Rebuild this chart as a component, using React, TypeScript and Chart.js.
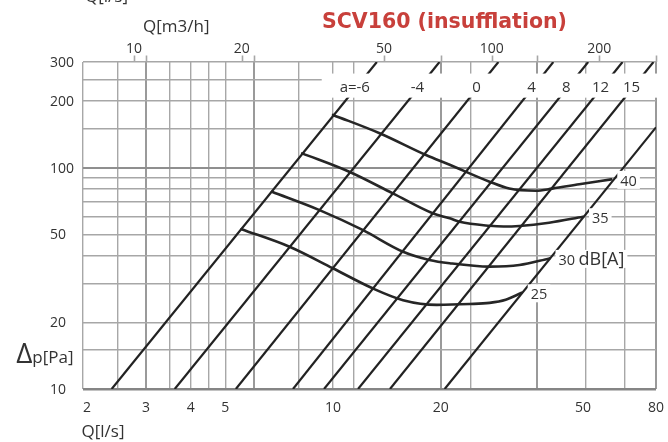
import React, { useEffect, useRef } from 'react';
import { Chart, registerables } from 'chart.js';

Chart.register(...registerables);

// ---------------- grid & tick values ----------------
const xGridLs = [2, 2.5, 3, 3.5, 4, 4.5, 5, 6, 8, 10, 11.4, 20, 24.2, 37.3, 51, 65.5, 80];
const xMajorLs = [3, 6, 20, 37.3, 80];
const yGridPa = [10, 15, 20, 30, 40, 50, 60, 70, 80, 90, 100, 150, 200, 250, 300];
const xTickLabelsLs = [2, 3, 4, 5, 10, 20, 50, 80];
const yTickLabelsPa = [10, 20, 50, 100, 200, 300];
const topTickLabelsM3h = [10, 20, 50, 100, 200];

// ---------------- damper setting lines ----------------
const damperLabels = ['a=-6', '-4', '0', '4', '8', '12', '15', ''];
const damperStartQ = [2.405, 3.61, 5.35, 7.73, 9.44, 11.75, 14.43, 20.52];
const damperStartPa = [10, 10, 10, 10, 10, 10, 10, 10];
const damperEndQ = [13.26, 19.85, 29.0, 41.3, 51.7, 64.5, 78.7, 80];
const damperEndPa = [300, 300, 300, 300, 300, 300, 300, 152];

// ---------------- sound level curves dB[A] ----------------
const dB40Q = [10.0, 13.5, 18.2, 21.2, 27.4, 31.1, 36.9, 41.0, 48.8, 60.0];
const dB40Pa = [173, 143, 114, 103, 86.4, 80.4, 78.6, 80.4, 84.1, 88.5];
const dB35Q = [8.2, 11.1, 14.7, 19.0, 21.2, 22.6, 27.4, 30.0, 33.2, 40.2, 50.0];
const dB35Pa = [116, 95.8, 76.5, 62.2, 59.0, 56.9, 54.6, 54.2, 54.5, 56.4, 60.0];
const dB30Q = [6.75, 9.17, 12.1, 15.7, 18.6, 21.2, 27.4, 33.2, 40.3];
const dB30Pa = [77.8, 64.3, 52.3, 41.7, 38.3, 37.0, 35.7, 36.3, 38.9];
const dB25Q = [5.55, 7.56, 9.99, 12.9, 15.7, 19.5, 24.1, 27.4, 30.4, 33.7];
const dB25Pa = [52.7, 43.9, 35.1, 28.5, 25.2, 24.0, 24.2, 24.5, 25.3, 27.2];
const dBLabels = ['40', '35', '30', '25'];

const FONT = '"Open Sans", "DejaVu Sans", sans-serif';
const TEXT = '#333333';
const GRID = '#a7a7a7';

const curves = [
  { q: dB40Q, pa: dB40Pa },
  { q: dB35Q, pa: dB35Pa },
  { q: dB30Q, pa: dB30Pa },
  { q: dB25Q, pa: dB25Pa },
];

function qOnLine(i: number, pa: number) {
  const q0 = damperStartQ[i], p0 = damperStartPa[i], q1 = damperEndQ[i], p1 = damperEndPa[i];
  const t = (Math.log(pa) - Math.log(p0)) / (Math.log(p1) - Math.log(p0));
  return Math.exp(Math.log(q0) + t * (Math.log(q1) - Math.log(q0)));
}

const overlay = {
  id: 'overlay',
  afterDatasetsDraw(chart: any) {
    const { ctx, chartArea: a, scales } = chart;
    const x = scales.x, y = scales.y;
    ctx.save();
    // label band (white strip hiding lines)
    const bx = x.getPixelForValue(9.3);
    const bTop = y.getPixelForValue(266);
    const bBot = y.getPixelForValue(207);
    ctx.fillStyle = '#ffffff';
    ctx.fillRect(bx, bTop, a.right + 3 - bx, bBot - bTop);

    // damper labels
    ctx.fillStyle = TEXT;
    ctx.font = `15px ${FONT}`;
    ctx.textAlign = 'center';
    ctx.textBaseline = 'alphabetic';
    const labelPa = 232;
    damperLabels.forEach((lab, i) => {
      if (!lab) return;
      const px = x.getPixelForValue(qOnLine(i, labelPa)) - 2;
      ctx.fillText(lab, px, y.getPixelForValue(labelPa) + 5.5);
    });

    // dB labels
    ctx.textAlign = 'left';
    curves.forEach((c, i) => {
      const n = c.q.length - 1;
      const ex = x.getPixelForValue(c.q[n]);
      const ey = y.getPixelForValue(c.pa[n]);
      const left = ex + 9;
      const base = ey + 6.5;
      ctx.font = `14.5px ${FONT}`;
      const w = ctx.measureText(dBLabels[i]).width;
      let total = w;
      let w2 = 0;
      if (i === 2) {
        ctx.font = `18px ${FONT}`;
        w2 = ctx.measureText('dB[A]').width;
        total = w + 3.5 + w2;
      }
      ctx.fillStyle = '#ffffff';
      ctx.fillRect(left - 3, base - 15, total + 6, 18);
      ctx.fillStyle = TEXT;
      ctx.font = `14.5px ${FONT}`;
      ctx.fillText(dBLabels[i], left, base);
      if (i === 2) {
        ctx.font = `18px ${FONT}`;
        ctx.fillText('dB[A]', left + w + 3.5, base);
      }
    });
    ctx.restore();
  },
  afterDraw(chart: any) {
    const { ctx, chartArea: a, scales } = chart;
    const x = scales.x, y = scales.y;
    ctx.save();
    // extensions / tick marks above the top border
    ctx.strokeStyle = GRID;
    ctx.lineWidth = 1.6;
    ctx.beginPath();
    xMajorLs.forEach((v) => {
      const px = Math.round(x.getPixelForValue(v)) + 0.5;
      ctx.moveTo(px, a.top - 6.5);
      ctx.lineTo(px, a.top);
    });
    topTickLabelsM3h.forEach((v) => {
      const px = Math.round(x.getPixelForValue(v / 3.6)) + 0.5;
      ctx.moveTo(px, a.top - 6.5);
      ctx.lineTo(px, a.top);
    });
    ctx.stroke();

    ctx.fillStyle = TEXT;
    ctx.font = `14px ${FONT}`;
    ctx.textBaseline = 'alphabetic';
    // left tick labels
    ctx.textAlign = 'left';
    yTickLabelsPa.forEach((v) => {
      ctx.fillText(String(v), a.left - 33, y.getPixelForValue(v) + 5);
    });
    // bottom tick labels
    xTickLabelsLs.forEach((v, i) => {
      ctx.textAlign = i === 0 ? 'left' : 'center';
      ctx.fillText(String(v), x.getPixelForValue(v), a.bottom + 22.5);
    });
    // top tick labels (m3/h)
    ctx.textAlign = 'center';
    topTickLabelsM3h.forEach((v) => {
      ctx.fillText(String(v), x.getPixelForValue(v / 3.6), a.top - 9.5);
    });

    // axis titles
    ctx.textAlign = 'left';
    ctx.font = `17px ${FONT}`;
    ctx.fillText('Q[l/s]', a.left - 1.5, a.bottom + 47.5);
    ctx.fillText('Q[m3/h]', a.left + 60, a.top - 30.5);
    ctx.fillText('Q[l/s]', a.left + 2, 1.5);
    ctx.textAlign = 'right';
    ctx.fillText('p[Pa]', a.left - 9.5, a.bottom - 26.5);
    ctx.font = `28px ${FONT}`;
    ctx.fillText('Δ', a.left - 50.5, a.bottom - 26.5);

    // chart title
    ctx.textAlign = 'left';
    ctx.fillStyle = '#c8403b';
    ctx.font = `bold 20.5px "DejaVu Sans", sans-serif`;
    ctx.fillText('SCV160 (insufflation)', 322, 28.3);
    ctx.restore();
  },
};

export default function App() {
  const ref = useRef<HTMLCanvasElement>(null);
  useEffect(() => {
    const canvas = ref.current;
    if (!canvas) return;
    const datasets: any[] = [];
    damperStartQ.forEach((q0, i) => {
      datasets.push({
        data: [
          { x: q0, y: damperStartPa[i] },
          { x: damperEndQ[i], y: damperEndPa[i] },
        ],
        borderColor: '#222222',
        borderWidth: 2.2,
        pointRadius: 0,
        tension: 0,
      });
    });
    curves.forEach((c) => {
      datasets.push({
        data: c.q.map((q, j) => ({ x: q, y: c.pa[j] })),
        borderColor: '#262626',
        borderWidth: 2.6,
        pointRadius: 0,
        cubicInterpolationMode: 'monotone',
        borderCapStyle: 'round',
      });
    });

    const chart = new Chart(canvas, {
      type: 'line',
      data: { datasets },
      options: {
        animation: false,
        responsive: false,
        devicePixelRatio: 1,
        events: [],
        layout: { padding: { left: 83, right: 12, top: 62, bottom: 53 } },
        plugins: { legend: { display: false }, tooltip: { enabled: false }, title: { display: false } },
        scales: {
          x: {
            type: 'logarithmic',
            min: 2,
            max: 80,
            afterBuildTicks: (s: any) => {
              s.ticks = xGridLs.map((v) => ({ value: v }));
            },
            ticks: { display: false },
            border: { display: false },
            grid: {
              drawTicks: false,
              color: (c: any) => (c.tick && xMajorLs.includes(c.tick.value) ? '#9a9a9a' : GRID),
              lineWidth: (c: any) => (c.tick && xMajorLs.includes(c.tick.value) ? 2 : 1.4),
            },
          },
          y: {
            type: 'logarithmic',
            min: 10,
            max: 300,
            afterBuildTicks: (s: any) => {
              s.ticks = yGridPa.map((v) => ({ value: v }));
            },
            ticks: { display: false },
            border: { display: false },
            grid: {
              drawTicks: false,
              color: (c: any) => {
                const v = c.tick ? c.tick.value : 0;
                if (v === 10) return '#858585';
                if (v === 100) return '#8f8f8f';
                return GRID;
              },
              lineWidth: (c: any) => {
                const v = c.tick ? c.tick.value : 0;
                if (v === 10) return 2.6;
                if (v === 100) return 2;
                return 1.4;
              },
            },
          },
        },
      },
      plugins: [overlay],
    } as any);
    return () => chart.destroy();
  }, []);
  return (
    <div style={{ position: 'fixed', left: 0, top: 0, width: 668, height: 442, background: '#ffffff' }}>
      <canvas ref={ref} width={668} height={442} style={{ display: 'block' }} />
    </div>
  );
}
